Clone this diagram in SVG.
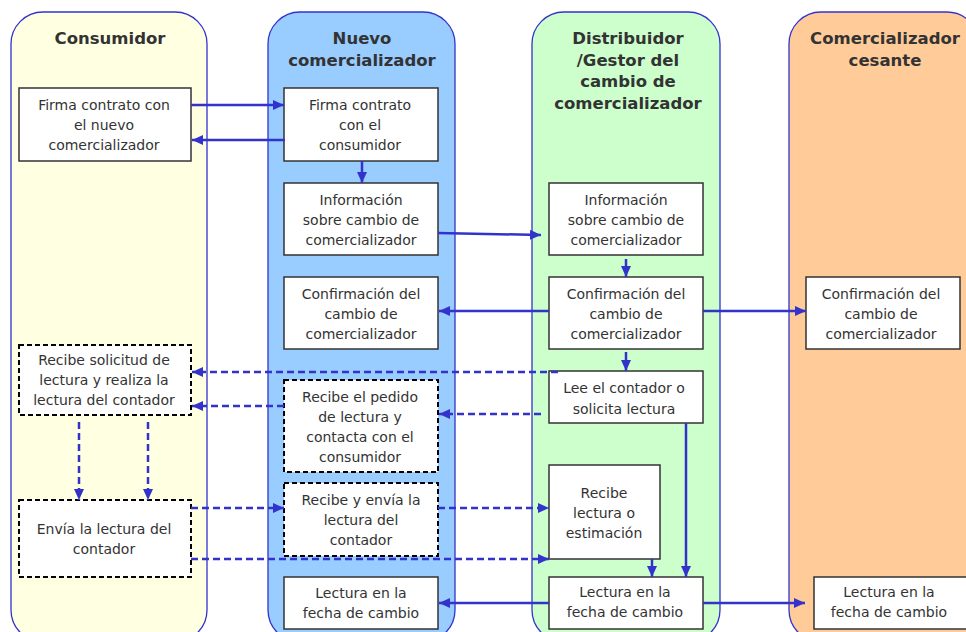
<svg xmlns="http://www.w3.org/2000/svg" width="966" height="632" viewBox="0 0 966 632">
<defs>
<marker id="ah" markerUnits="userSpaceOnUse" markerWidth="11" markerHeight="10" refX="11" refY="5" orient="auto">
<path d="M0,0 L11,5 L0,10 z" fill="#3333cc"/>
</marker>
<style>
.lane{stroke:#3333cc;stroke-width:1.3}
.title{font-family:"DejaVu Sans",Verdana,sans-serif;font-weight:bold;font-size:16.5px;fill:#333;text-anchor:middle}
.box{fill:#fff;stroke:#333;stroke-width:1.5}
.dbox{fill:#fff;stroke:#000;stroke-width:2;stroke-dasharray:5 3}
.t{font-family:"DejaVu Sans",Verdana,sans-serif;font-size:14px;fill:#333;text-anchor:middle}
.c{stroke:#3333cc;stroke-width:2.5;fill:none;marker-end:url(#ah)}
.d{stroke:#3333cc;stroke-width:2.5;fill:none;stroke-dasharray:7 4;marker-end:url(#ah)}
</style>
</defs>
<rect width="966" height="632" fill="#fff"/>
<g id="lane-consumidor">
<rect class="lane" x="11" y="12" width="196" height="630" rx="32" fill="#ffffe2"/>
<text class="title" x="110" y="44">Consumidor</text>
</g>
<g id="lane-nuevo">
<rect class="lane" x="268" y="12" width="187" height="630" rx="32" fill="#99ccff"/>
<text class="title" x="362" y="44">Nuevo</text>
<text class="title" x="362" y="66">comercializador</text>
</g>
<g id="lane-distribuidor">
<rect class="lane" x="532" y="12" width="188" height="630" rx="32" fill="#ccffcc"/>
<text class="title" x="628" y="44">Distribuidor</text>
<text class="title" x="628" y="66">/Gestor del</text>
<text class="title" x="628" y="87">cambio de</text>
<text class="title" x="628" y="109">comercializador</text>
</g>
<g id="lane-cesante">
<rect class="lane" x="789" y="12" width="190" height="630" rx="32" fill="#ffcc99"/>
<text class="title" x="885" y="44">Comercializador</text>
<text class="title" x="885" y="66">cesante</text>
</g>

<g id="B1"><rect class="box" x="19" y="88" width="172" height="73"/>
<text class="t" x="104" y="110">Firma contrato con</text><text class="t" x="104" y="130">el nuevo</text><text class="t" x="104" y="150">comercializador</text></g>
<g id="B2"><rect class="dbox" x="19" y="345" width="172" height="70"/>
<text class="t" x="104" y="365">Recibe solicitud de</text><text class="t" x="104" y="385">lectura y realiza la</text><text class="t" x="104" y="405">lectura del contador</text></g>
<g id="B3"><rect class="dbox" x="19" y="500" width="172" height="77"/>
<text class="t" x="104" y="534">Envía la lectura del</text><text class="t" x="104" y="554">contador</text></g>

<g id="N1"><rect class="box" x="284" y="88" width="154" height="73"/>
<text class="t" x="360" y="110">Firma contrato</text><text class="t" x="360" y="130">con el</text><text class="t" x="360" y="150">consumidor</text></g>
<g id="N2"><rect class="box" x="284" y="183" width="154" height="72"/>
<text class="t" x="361" y="205">Información</text><text class="t" x="361" y="225">sobre cambio de</text><text class="t" x="361" y="245">comercializador</text></g>
<g id="N3"><rect class="box" x="284" y="277" width="154" height="72"/>
<text class="t" x="361" y="299">Confirmación del</text><text class="t" x="361" y="319">cambio de</text><text class="t" x="361" y="339">comercializador</text></g>
<g id="N4"><rect class="dbox" x="284" y="380" width="154" height="92"/>
<text class="t" x="360" y="402">Recibe el pedido</text><text class="t" x="360" y="422">de lectura y</text><text class="t" x="360" y="442">contacta con el</text><text class="t" x="360" y="462">consumidor</text></g>
<g id="N5"><rect class="dbox" x="284" y="483" width="154" height="73"/>
<text class="t" x="361" y="505">Recibe y envía la</text><text class="t" x="361" y="525">lectura del</text><text class="t" x="361" y="545">contador</text></g>
<g id="N6"><rect class="box" x="284" y="577" width="154" height="52"/>
<text class="t" x="361" y="598">Lectura en la</text><text class="t" x="361" y="618">fecha de cambio</text></g>

<g id="D1"><rect class="box" x="549" y="183" width="154" height="72"/>
<text class="t" x="626" y="205">Información</text><text class="t" x="626" y="225">sobre cambio de</text><text class="t" x="626" y="245">comercializador</text></g>
<g id="D2"><rect class="box" x="549" y="277" width="154" height="72"/>
<text class="t" x="626" y="299">Confirmación del</text><text class="t" x="626" y="319">cambio de</text><text class="t" x="626" y="339">comercializador</text></g>
<g id="D3"><rect class="box" x="549" y="371" width="154" height="52"/>
<text class="t" x="624" y="393">Lee el contador o</text><text class="t" x="624" y="414">solicita lectura</text></g>
<g id="D4"><rect class="box" x="549" y="465" width="111" height="94"/>
<text class="t" x="604" y="498">Recibe</text><text class="t" x="604" y="518">lectura o</text><text class="t" x="604" y="538">estimación</text></g>
<g id="D5"><rect class="box" x="549" y="577" width="154" height="52"/>
<text class="t" x="625" y="597">Lectura en la</text><text class="t" x="625" y="617">fecha de cambio</text></g>

<g id="C1"><rect class="box" x="806" y="277" width="154" height="72"/>
<text class="t" x="881" y="299">Confirmación del</text><text class="t" x="881" y="319">cambio de</text><text class="t" x="881" y="339">comercializador</text></g>
<g id="C2"><rect class="box" x="814" y="577" width="154" height="52"/>
<text class="t" x="889" y="597">Lectura en la</text><text class="t" x="889" y="617">fecha de cambio</text></g>

<g id="connectors">
<path class="c" d="M191,105 H284"/>
<path class="c" d="M285,140 H192"/>
<path class="c" d="M362,161 V183"/>
<path class="c" d="M438,233 L541,235"/>
<path class="c" d="M626,259 V277"/>
<path class="c" d="M549,311 H439"/>
<path class="c" d="M703,311 H806"/>
<path class="c" d="M626,352 V371"/>
<path class="d" d="M558,372 H192"/>
<path class="d" d="M284,406 H192"/>
<path class="d" d="M541,414 H439"/>
<path class="d" d="M79,422 V500"/>
<path class="d" d="M148,422 V500"/>
<path class="d" d="M191,508 H284"/>
<path class="d" d="M438,508 H549"/>
<path class="d" d="M191,559 H549"/>
<path class="c" d="M652,559 V577"/>
<path class="c" d="M686,423 V577"/>
<path class="c" d="M549,603 H439"/>
<path class="c" d="M703,603 H805"/>
</g>
</svg>
